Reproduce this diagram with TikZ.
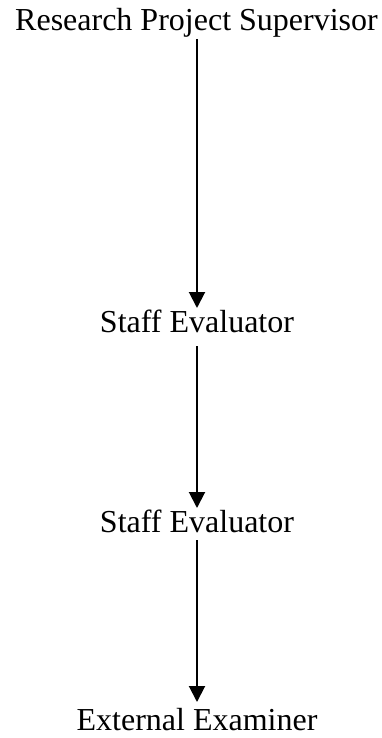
\documentclass[tikz,border=0pt]{standalone}
\usepackage{fontspec}
\setmainfont{Liberation Serif}
\usetikzlibrary{arrows.meta}
\begin{document}
\begin{tikzpicture}[x=1pt,y=-1pt,
  lbl/.style={anchor=base, inner sep=0pt, font=\fontsize{32}{38}\selectfont},
  arr/.style={line width=2pt, -{Triangle[width=16pt,length=16pt]}}]
\useasboundingbox (0,0) rectangle (381,738);
\node[lbl] (t1) at (196.5,31) {Research Project Supervisor};
\node[lbl] (t2) at (197,332) {Staff Evaluator};
\node[lbl] (t3) at (197,532) {Staff Evaluator};
\node[lbl] (t4) at (197,730) {External Examiner};
\draw[arr] ([xshift=0.5pt,yshift=-8pt]t1.base) -- ([yshift=24pt]t2.base);
\draw[arr] ([yshift=-14pt]t2.base) -- ([yshift=24pt]t3.base);
\draw[arr] ([yshift=-8pt]t3.base) -- ([yshift=28pt]t4.base);
\end{tikzpicture}
\end{document}
